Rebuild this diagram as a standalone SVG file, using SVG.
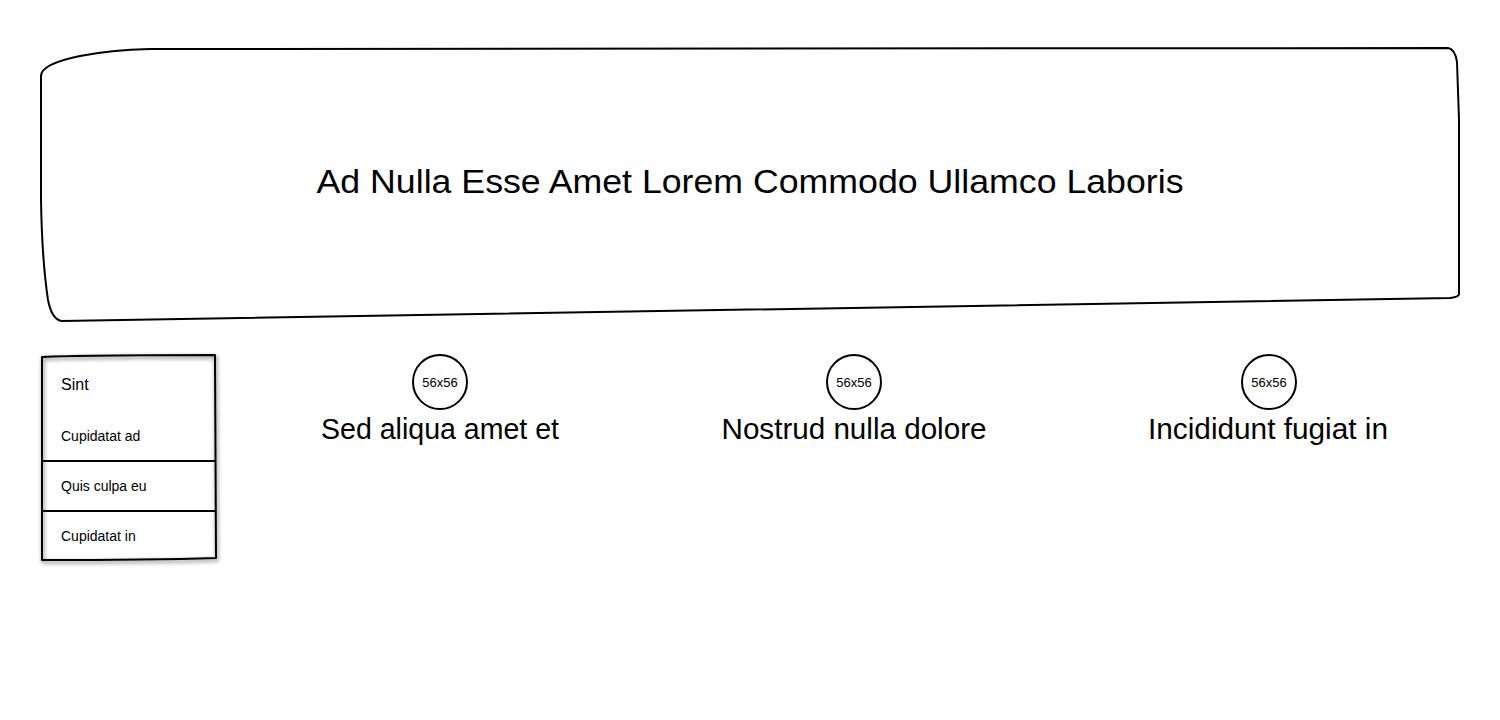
<svg xmlns="http://www.w3.org/2000/svg" width="1500" height="720" viewBox="0 0 1500 720">
<defs>
<style>
.ln{fill:none;stroke:#000;stroke-width:2;stroke-linejoin:round}
.t{font-family:"Liberation Sans","Noto Sans",sans-serif;fill:#000}
.c{fill:#fff;stroke:#000;stroke-width:2}
</style>
<filter id="sh" x="-10%" y="-10%" width="130%" height="130%">
<feGaussianBlur in="SourceAlpha" stdDeviation="2"/>
<feOffset dx="1" dy="2"/>
<feComponentTransfer><feFuncA type="linear" slope="0.6"/></feComponentTransfer>
<feMerge><feMergeNode/><feMergeNode in="SourceGraphic"/></feMerge>
</filter>
</defs>
<rect width="1500" height="720" fill="#fff"/>
<g id="header">
<path class="ln" fill="#fff" d="M41,76 Q41,64 80,56 Q110,50 150,49 L1448,48 Q1455,49 1457,62 L1459,120 L1459,294 Q1459,297 1450,298 L62,321 Q52,320 48,300 Q42,260 41,200 Z"/>
<text class="t" x="750" y="193" font-size="34" text-anchor="middle" textLength="867" lengthAdjust="spacingAndGlyphs">Ad Nulla Esse Amet Lorem Commodo Ullamco Laboris</text>
</g>
<g id="menu">
<path class="ln" fill="#fff" filter="url(#sh)" d="M42,357 Q80,355 215,355 L216,558 Q150,560 42,560 Z"/>
<line class="ln" x1="42" y1="461" x2="216" y2="461"/>
<line class="ln" x1="42" y1="511" x2="216" y2="511"/>
<text class="t" x="61" y="390" font-size="16">Sint</text>
<text class="t" x="61" y="441" font-size="14">Cupidatat ad</text>
<text class="t" x="61" y="491" font-size="14">Quis culpa eu</text>
<text class="t" x="61" y="541" font-size="14">Cupidatat in</text>
</g>
<g id="item1">
<circle class="c" cx="440" cy="382" r="27"/>
<text class="t" x="440" y="387" font-size="13" text-anchor="middle">56x56</text>
<text class="t" x="440" y="439" font-size="29" text-anchor="middle" textLength="238" lengthAdjust="spacingAndGlyphs">Sed aliqua amet et</text>
</g>
<g id="item2">
<circle class="c" cx="854" cy="382" r="27"/>
<text class="t" x="854" y="387" font-size="13" text-anchor="middle">56x56</text>
<text class="t" x="854" y="439" font-size="29" text-anchor="middle" textLength="265" lengthAdjust="spacingAndGlyphs">Nostrud nulla dolore</text>
</g>
<g id="item3">
<circle class="c" cx="1269" cy="382" r="27"/>
<text class="t" x="1268" y="439" font-size="29" text-anchor="middle" textLength="240" lengthAdjust="spacingAndGlyphs">Incididunt fugiat in</text>
<text class="t" x="1269" y="387" font-size="13" text-anchor="middle">56x56</text>
</g>
<g id="connectors"></g>
</svg>
